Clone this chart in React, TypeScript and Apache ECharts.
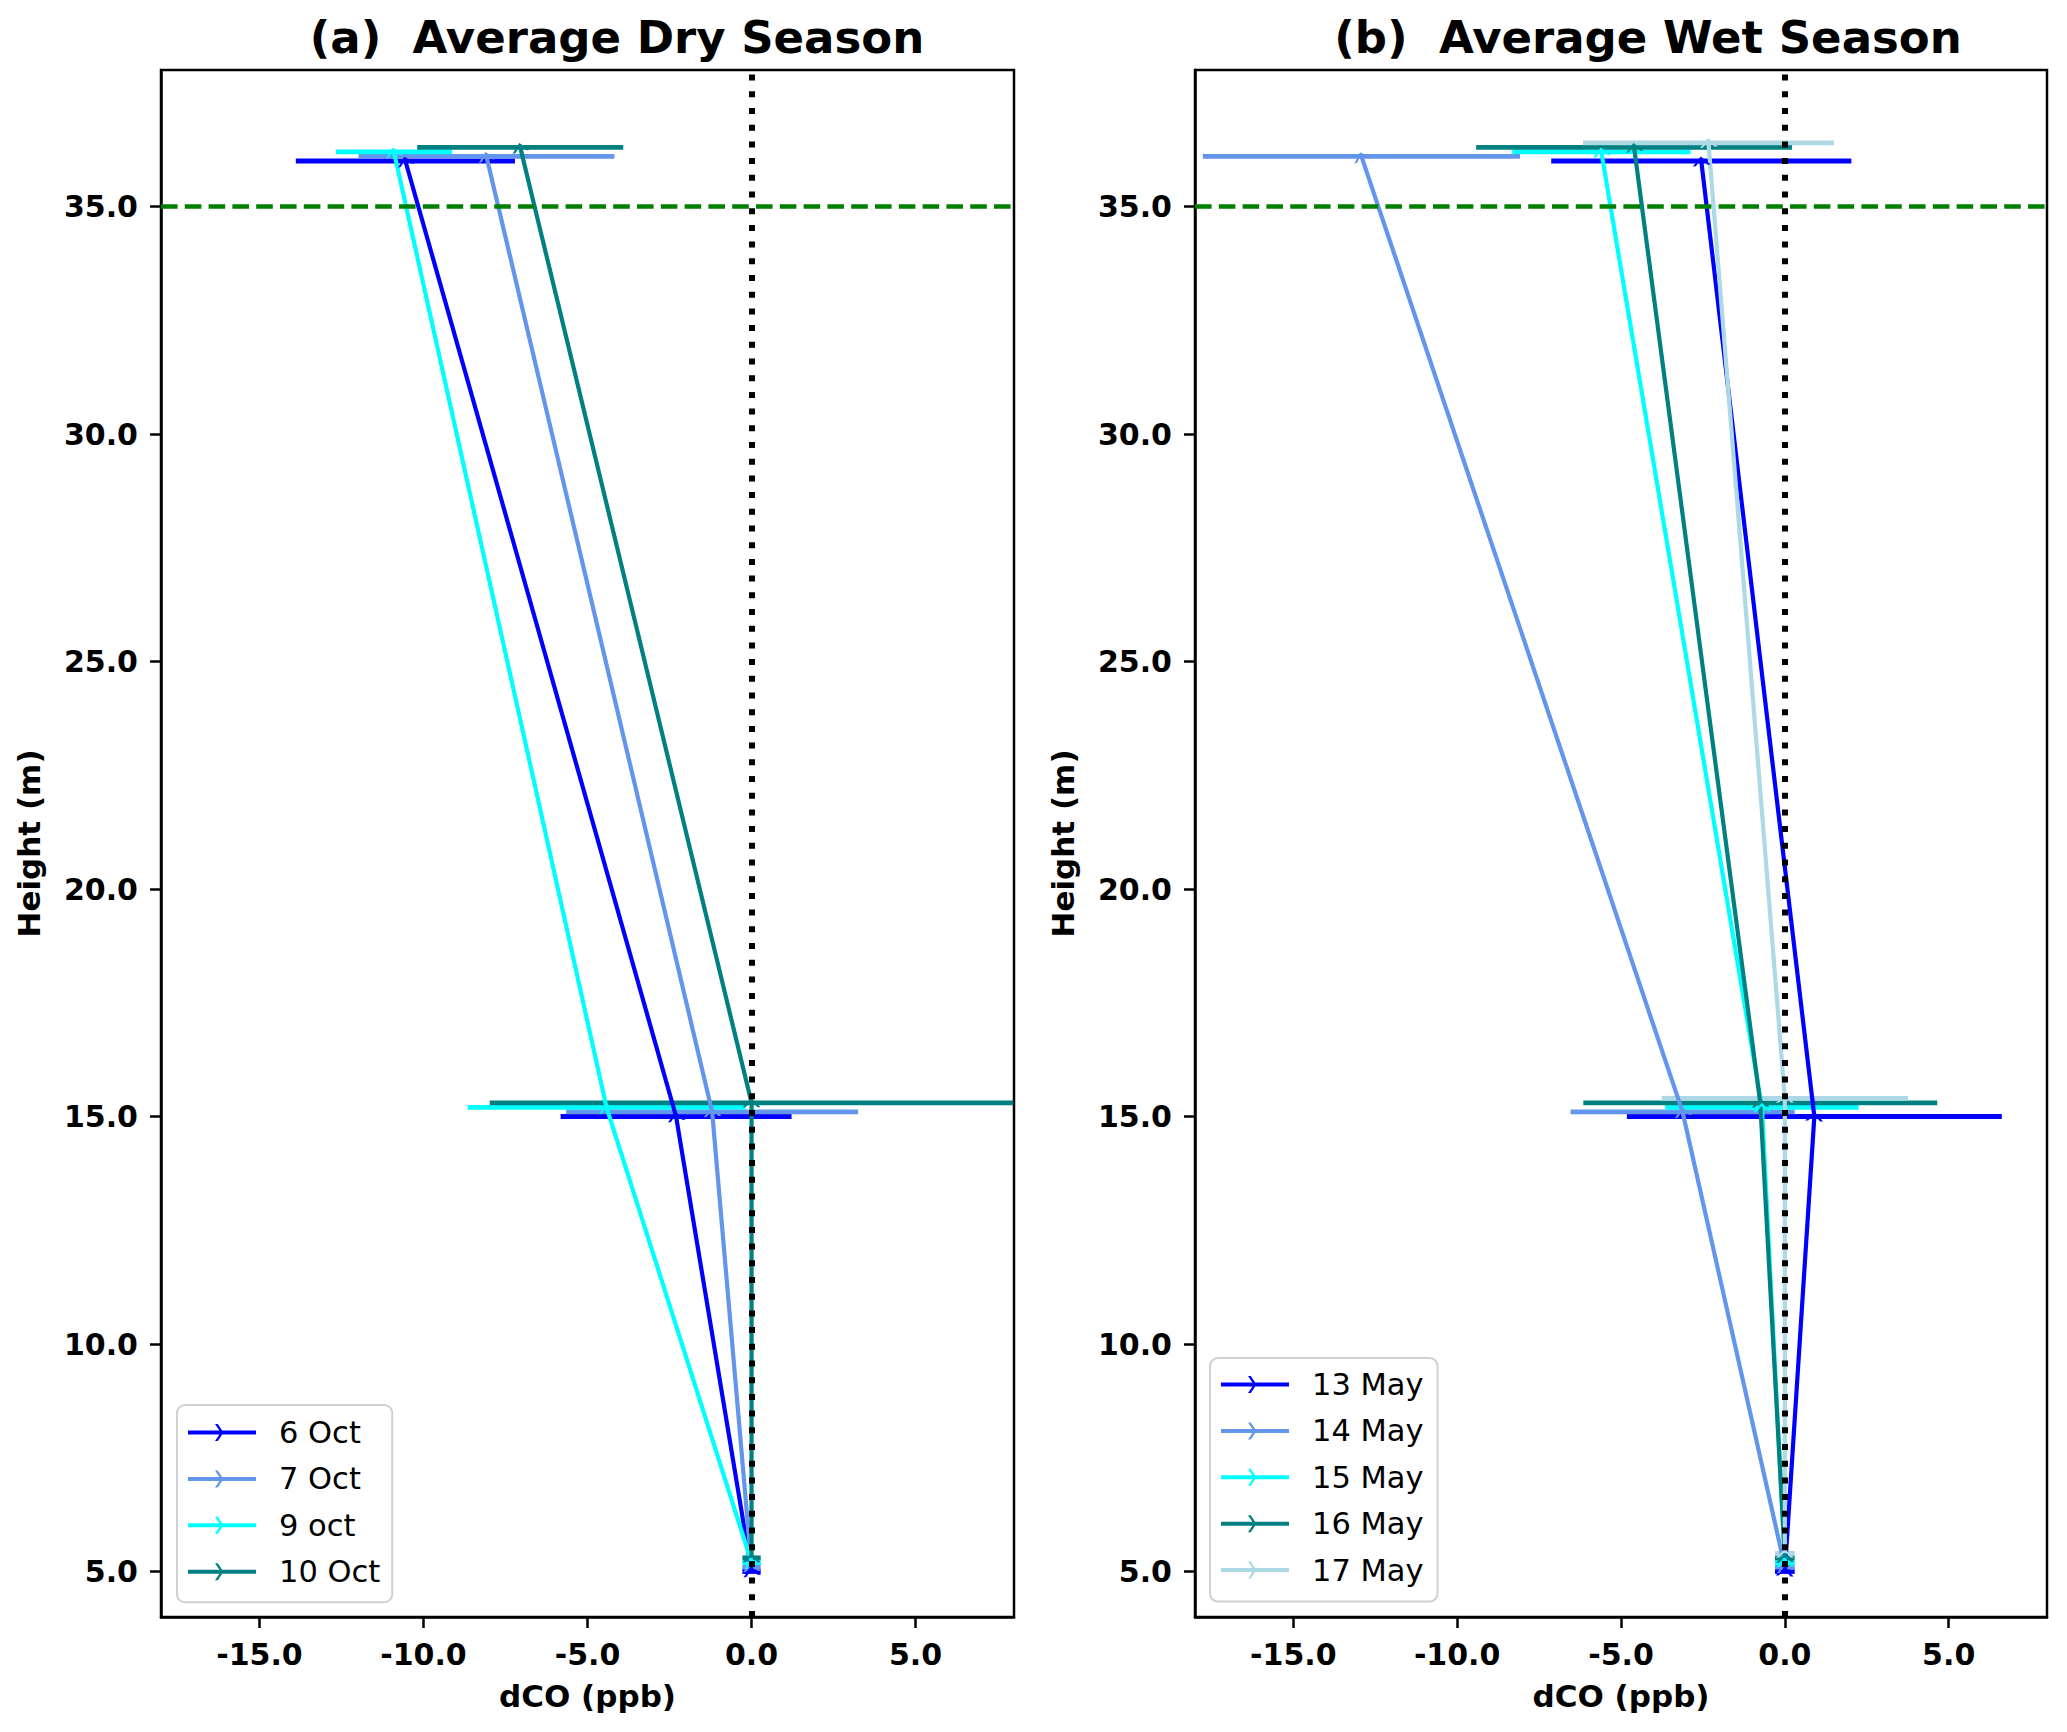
import React, { useEffect, useRef } from "react";
import * as echarts from "echarts";

// ---------- data ----------
const xTicks = [-15, -10, -5, 0, 5];
const yTicks = [5, 10, 15, 20, 25, 30, 35];
const xMin = -18;
const xMax = 8;
const yMin = 4;
const yMax = 38;
const refHeight = 35;

const dryTitle = "(a)  Average Dry Season";
const wetTitle = "(b)  Average Wet Season";
const xName = "dCO (ppb)";
const yName = "Height (m)";

const dryNames = ["6 Oct", "7 Oct", "9 oct", "10 Oct"];
const dryColors = ["#0000ff", "#6495ed", "#00ffff", "#008080"];
const dryX = [
  [0.0, -2.3, -10.55],
  [0.0, -1.2, -8.08],
  [0.0, -4.42, -10.9],
  [0.0, 0.0, -7.05],
];
const dryErr = [
  [0.28, 3.52, 3.34],
  [0.28, 4.45, 3.9],
  [0.28, 4.23, 1.77],
  [0.28, 7.98, 3.14],
];
const dryH = [
  [5.0, 15.0, 36.0],
  [5.1, 15.1, 36.1],
  [5.2, 15.2, 36.2],
  [5.3, 15.3, 36.3],
];

const wetNames = ["13 May", "14 May", "15 May", "16 May", "17 May"];
const wetColors = ["#0000ff", "#6495ed", "#00ffff", "#008080", "#add8e6"];
const wetX = [
  [0.0, 0.9, -2.55],
  [0.0, -3.12, -12.92],
  [0.0, -0.7, -5.6],
  [0.0, -0.75, -4.6],
  [0.0, 0.0, -2.33],
];
const wetErr = [
  [0.3, 5.72, 4.58],
  [0.3, 3.42, 4.84],
  [0.3, 2.95, 2.72],
  [0.3, 5.4, 4.82],
  [0.3, 3.76, 3.83],
];
const wetH = [
  [5.0, 15.0, 36.0],
  [5.1, 15.1, 36.1],
  [5.2, 15.2, 36.2],
  [5.3, 15.3, 36.3],
  [5.4, 15.4, 36.4],
];

// ---------- layout / style ----------
const W = 2067;
const H = 1732;
const FONT = "DejaVu Sans";
const GRID_TOP = 70;
const GRID_H = 1547;
const grids = [
  { left: 161, width: 853 },
  { left: 1195, width: 852 },
];
const titleCenters = [617, 1648];

const chevron = "path://M0,9 L9,0 L18,9 L15,9 L9,3 L3,9 Z";
const legendIcon =
  "path://M0,6.5 L68,6.5 L68,10.5 L0,10.5 Z M27,0 L29.8,0 L35.5,8.5 L29.8,17 L27,17 L32.7,8.5 Z";

function buildPanel(
  idx: number,
  names: string[],
  colors: string[],
  xs: number[][],
  errs: number[][],
  hs: number[][]
) {
  const pxX = grids[idx].width / (xMax - xMin);
  const pxY = GRID_H / (yMax - yMin);
  const series: any[] = [];
  names.forEach((name, s) => {
    const color = colors[s];
    series.push({
      type: "custom",
      name: name + " err",
      xAxisIndex: idx,
      yAxisIndex: idx,
      clip: true,
      z: 2,
      silent: true,
      data: xs[s].map((x, i) => [x, hs[s][i], errs[s][i]]),
      encode: { x: 0, y: 1 },
      renderItem: (params: any, api: any) => {
        const x = api.value(0);
        const y = api.value(1);
        const e = api.value(2);
        const p1 = api.coord([x - e, y]);
        const p2 = api.coord([x + e, y]);
        return {
          type: "line",
          shape: { x1: p1[0], y1: p1[1], x2: p2[0], y2: p2[1] },
          style: { stroke: color, lineWidth: 4.8 },
        };
      },
    });
    const pts = xs[s].map((x, i) => [x, hs[s][i]]);
    series.push({
      type: "line",
      name,
      xAxisIndex: idx,
      yAxisIndex: idx,
      z: 3,
      color,
      symbol: chevron,
      symbolSize: [18, 9],
      symbolKeepAspect: false,
      showSymbol: true,
      showAllSymbol: true,
      itemStyle: { color, borderWidth: 0 },
      lineStyle: { color, width: 4.2 },
      data: pts.map((p, i) => {
        const a = i === 0 ? pts[0] : pts[i - 1];
        const b = i === 0 ? pts[1] : pts[i];
        const ang = (Math.atan2((b[1] - a[1]) * pxY, (b[0] - a[0]) * pxX) * 180) / Math.PI;
        return { value: p, symbolRotate: ang - 90 };
      }),
    });
  });
  series.push({
    type: "line",
    name: "ref" + idx,
    xAxisIndex: idx,
    yAxisIndex: idx,
    data: [],
    z: 6,
    markLine: {
      silent: true,
      symbol: ["none", "none"],
      label: { show: false },
      animation: false,
      data: [
        { xAxis: 0, lineStyle: { color: "#000000", type: [6, 10.7], width: 6 } },
        { yAxis: refHeight, lineStyle: { color: "#008000", type: [16.6, 7.2], width: 4.5 } },
      ],
    },
  });
  return series;
}

function axisLabelCommon(margin: number) {
  return {
    fontFamily: FONT,
    fontWeight: "bold",
    fontSize: 30,
    color: "#000",
    margin,
    formatter: (v: number) => v.toFixed(1),
  };
}

export default function App() {
  const ref = useRef<HTMLDivElement>(null);
  useEffect(() => {
    document.body.style.margin = "0";
    const chart = echarts.init(ref.current!, null, { renderer: "svg" });
    const legendCommon = {
      orient: "vertical",
      itemWidth: 68,
      itemHeight: 17,
      itemGap: 15.4,
      borderColor: "#d0d0d0",
      borderWidth: 2,
      borderRadius: 8,
      backgroundColor: "rgba(255,255,255,0.8)",
      itemStyle: { borderWidth: 0 },
      textStyle: {
        fontFamily: FONT,
        fontSize: 30.5,
        color: "#000",
        lineHeight: 30,
        padding: [0, 0, 0, 18],
      },
      selectedMode: false,
    };
    const nameStyle = { fontFamily: FONT, fontWeight: "bold", fontSize: 31, color: "#000" };
    const option: any = {
      animation: false,
      backgroundColor: "#ffffff",
      grid: grids.map((g) => ({
        left: g.left,
        top: GRID_TOP,
        width: g.width,
        height: GRID_H,
        show: true,
        borderColor: "#000",
        borderWidth: 2.5,
        backgroundColor: "transparent",
        containLabel: false,
      })),
      xAxis: grids.map((g, i) => ({
        type: "value",
        gridIndex: i,
        min: xMin,
        max: xMax,
        name: xName,
        nameLocation: "middle",
        nameGap: 63,
        nameTextStyle: nameStyle,
        splitLine: { show: false },
        axisLine: { show: true, onZero: false, lineStyle: { color: "#000", width: 2.5 } },
        axisTick: { show: true, customValues: xTicks, length: 11, lineStyle: { color: "#000", width: 2.5 } },
        axisLabel: { ...axisLabelCommon(22), customValues: xTicks },
      })),
      yAxis: grids.map((g, i) => ({
        type: "value",
        gridIndex: i,
        min: yMin,
        max: yMax,
        name: yName,
        nameLocation: "middle",
        nameGap: 117,
        nameTextStyle: nameStyle,
        splitLine: { show: false },
        axisLine: { show: true, onZero: false, lineStyle: { color: "#000", width: 2.5 } },
        axisTick: { show: true, customValues: yTicks, length: 11, lineStyle: { color: "#000", width: 2.5 } },
        axisLabel: { ...axisLabelCommon(23), customValues: yTicks },
      })),
      legend: [
        {
          ...legendCommon,
          left: 177,
          top: 1405,
          padding: [12, 12, 15, 11],
          data: dryNames.map((n) => ({ name: n, icon: legendIcon })),
        },
        {
          ...legendCommon,
          left: 1210,
          top: 1358,
          padding: [11, 14, 16, 11],
          data: wetNames.map((n) => ({ name: n, icon: legendIcon })),
        },
      ],
      graphic: [
        {
          type: "text",
          x: titleCenters[0],
          y: 37,
          style: {
            text: dryTitle,
            fontFamily: FONT,
            fontWeight: "bold",
            fontSize: 45,
            fill: "#000",
            textAlign: "center",
            textVerticalAlign: "middle",
          },
        },
        {
          type: "text",
          x: titleCenters[1],
          y: 37,
          style: {
            text: wetTitle,
            fontFamily: FONT,
            fontWeight: "bold",
            fontSize: 45,
            fill: "#000",
            textAlign: "center",
            textVerticalAlign: "middle",
          },
        },
      ],
      series: [
        ...buildPanel(0, dryNames, dryColors, dryX, dryErr, dryH),
        ...buildPanel(1, wetNames, wetColors, wetX, wetErr, wetH),
      ],
    };
    chart.setOption(option);
    return () => chart.dispose();
  }, []);
  return <div ref={ref} style={{ width: W + "px", height: H + "px" }} />;
}
